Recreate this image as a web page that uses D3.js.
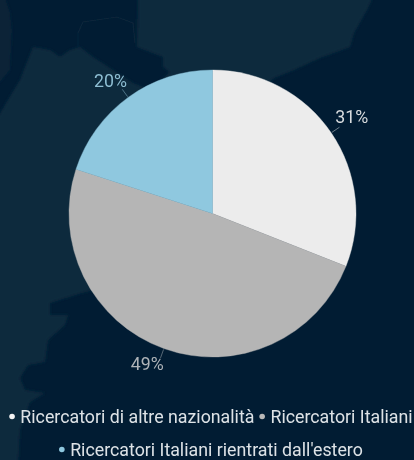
<!DOCTYPE html>
<html><head><meta charset="utf-8">
<script src="https://cdnjs.cloudflare.com/ajax/libs/d3/7.8.5/d3.min.js"></script>
<style>html,body{margin:0;padding:0;background:#011c33;overflow:hidden}svg{display:block}text{font-family:Roboto,sans-serif}</style>
</head><body><svg id="c" width="414" height="460"></svg>
<script>
const categories=["Ricercatori di altre nazionalità","Ricercatori Italiani","Ricercatori Italiani rientrati dall'estero"];
const values=[31,49,20];
const colors=["#ececec","#b5b5b5","#8fc8df"];
const labelColors=["#d8dbde","#aeb3b8","#8dbdd2"];
const legendColors=["#f4f4f4","#b8b8b8","#8fc8df"];

const svg=d3.select("#c");
const defs=svg.append("defs");
defs.append("filter").attr("id","soft").append("feGaussianBlur").attr("stdDeviation",0.55);
defs.append("filter").attr("id","soft2").append("feGaussianBlur").attr("stdDeviation",1.5);

// decorative background land
const land=svg.append("g").attr("fill","#0f293d").attr("filter","url(#soft2)");
land.append("path").attr("d","M-5,-5L4,-5L10,12L12,30L10,70L-5,88Z").attr("opacity",.55);
land.append("path").attr("d","M-5,122L8,100L20,80L33,47L50,50L60,57L70,50L80,47L93,57L133,83L150,90L170,72L163,67L163,57L137,47L138,-5L374,-5L367,10L354,33L350,47L320,58L294,70L274,78L230,120L150,280L85,292L50,303L50,315L68,315L65,325L48,340L45,362L28,365L20,378L25,390L45,393L30,402L20,430L18,465L-5,465Z");
svg.append("path").attr("d","M78,47L78,33L83,22L117,17L133,23L135,43").attr("fill","none").attr("stroke","#0f293d").attr("stroke-width",1.2).attr("stroke-opacity",.7).attr("filter","url(#soft)");

const cx=212.5,cy=213.5,r=143.5;
const pie=d3.pie().value(d=>d).sort(null);
const arc=d3.arc().innerRadius(0).outerRadius(r);
const arcs=pie(values);
const g=svg.append("g").attr("transform",`translate(${cx},${cy})`);
g.selectAll("path").data(arcs).join("path").attr("d",arc).attr("fill",(d,i)=>colors[i]).attr("stroke",(d,i)=>colors[i]).attr("stroke-width",.4);

// leader lines + labels
const inner=d3.arc().innerRadius(r+1).outerRadius(r+1);
const outer=d3.arc().innerRadius(r+10).outerRadius(r+10);
const labelArc=d3.arc().innerRadius(r+22.5).outerRadius(r+22.5);
const nudge=[[2,-2],[-9,-4.5],[-4.4,2.8]];
g.selectAll("line").data(arcs).join("line")
 .attr("x1",d=>inner.centroid(d)[0]).attr("y1",d=>inner.centroid(d)[1])
 .attr("x2",d=>outer.centroid(d)[0]).attr("y2",d=>outer.centroid(d)[1])
 .attr("stroke",(d,i)=>labelColors[i]).attr("stroke-opacity",.5).attr("stroke-width",1);
g.selectAll("text").data(arcs).join("text")
 .attr("x",(d,i)=>labelArc.centroid(d)[0]+nudge[i][0]).attr("y",(d,i)=>labelArc.centroid(d)[1]+nudge[i][1])
 .attr("text-anchor","middle").attr("dominant-baseline","middle")
 .attr("font-size",18.5).attr("textLength",33).attr("lengthAdjust","spacingAndGlyphs").attr("filter","url(#soft)")
 .attr("fill",(d,i)=>labelColors[i]).text(d=>d.value+"%");

// legend
const rows=[[0,1],[2]];
const rowY=[416,449];
const legend=svg.append("g").attr("filter","url(#soft)");
const fs=17.8;
const meas=svg.append("text").attr("font-size",fs).attr("opacity",0);
const w=s=>{meas.text(s);return meas.node().getComputedTextLength();};
rows.forEach((row,ri)=>{
  const items=row.map(i=>({i,w:w(categories[i])}));
  const dot=11,sep=5;
  const total=d3.sum(items,d=>d.w+dot)+sep*(items.length-1);
  let x=211-total/2;
  items.forEach(it=>{
    legend.append("circle").attr("cx",x+2.7).attr("cy",rowY[ri]+.5).attr("r",2.8).attr("fill",legendColors[it.i]);
    legend.append("text").attr("x",x+dot).attr("y",rowY[ri]+6.5).attr("font-size",fs).attr("fill","#dde2e6").text(categories[it.i]);
    x+=dot+it.w+sep;
  });
});
meas.remove();
</script></body></html>
